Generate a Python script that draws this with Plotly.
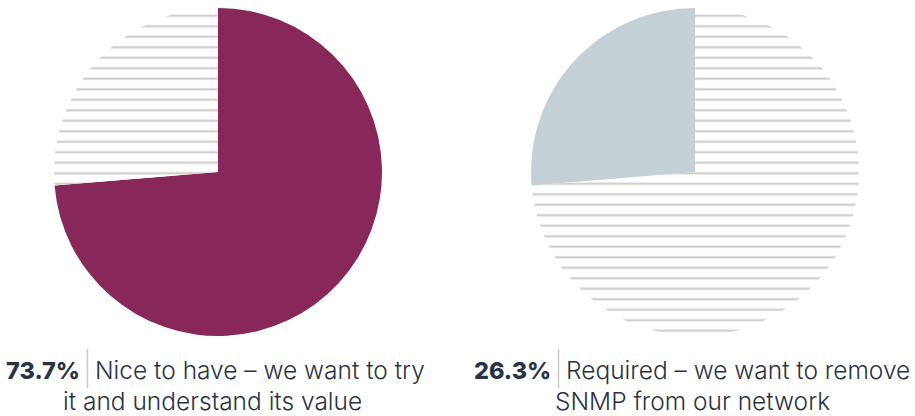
import plotly.graph_objects as go

# Survey result: how important is dropping SNMP
shares = [73.7, 26.3]
answers = ["Nice to have – we want to try it and understand its value",
           "Required – we want to remove SNMP from our network"]
pct_labels = ["73.7%", "26.3%"]
line1 = ["Nice to have – we want to try", "Required – we want to remove"]
line2 = ["it and understand its value", "SNMP from our network"]

W, H = 915, 416
MAROON = "#88285A"
SLATE = "#C4D0D6"
STRIPE = "#CDCDC7"
TEXT = "#2B3343"
FONT = "Inter"
FS = 24.5


def px(x):
    return x / W


def py(y):
    return 1 - y / H


fig = go.Figure()

# left pie: highlighted share first, striped remainder
fig.add_trace(go.Pie(
    values=shares,
    labels=["a", "b"],
    sort=False,
    direction="clockwise",
    rotation=0,
    textinfo="none",
    hoverinfo="skip",
    showlegend=False,
    domain=dict(x=[px(54), px(382)], y=[py(336), py(8)]),
    marker=dict(
        colors=[MAROON, "white"],
        line=dict(width=0),
        pattern=dict(shape=["", "-"], fgcolor=[MAROON, STRIPE],
                     bgcolor=[MAROON, "white"], size=10.5, solidity=0.2),
    ),
))

# right pie: striped majority, highlighted minority share
fig.add_trace(go.Pie(
    values=shares,
    labels=["c", "d"],
    sort=False,
    direction="clockwise",
    rotation=0,
    textinfo="none",
    hoverinfo="skip",
    showlegend=False,
    domain=dict(x=[px(531), px(859)], y=[py(336), py(8)]),
    marker=dict(
        colors=["white", SLATE],
        line=dict(width=0),
        pattern=dict(shape=["-", ""], fgcolor=[STRIPE, SLATE],
                     bgcolor=["white", SLATE], size=10.5, solidity=0.2),
    ),
))

# captions under each pie
seps = [87.5, 558.5]
centers = [212, 692]
for pct, l1, l2, sx, cx in zip(pct_labels, line1, line2, seps, centers):
    fig.add_annotation(x=px(sx - 6), y=py(370), xref="paper", yref="paper",
                       text=pct, showarrow=False,
                       xanchor="right", yanchor="middle",
                       font=dict(family=FONT, size=23.5, color=TEXT, weight=800))
    fig.add_annotation(x=px(sx + 5), y=py(370), xref="paper", yref="paper",
                       text=l1, showarrow=False,
                       xanchor="left", yanchor="middle",
                       font=dict(family=FONT, size=FS, color=TEXT, weight=300))
    fig.add_annotation(x=px(cx), y=py(401), xref="paper", yref="paper",
                       text=l2, showarrow=False,
                       xanchor="center", yanchor="middle",
                       font=dict(family=FONT, size=FS, color=TEXT, weight=300))
    fig.add_shape(type="line", xref="paper", yref="paper",
                  x0=px(sx), x1=px(sx), y0=py(349), y1=py(388),
                  line=dict(color="#C9C9C9", width=1.5))

fig.update_layout(
    width=W, height=H,
    margin=dict(l=0, r=0, t=0, b=0),
    paper_bgcolor="white",
    plot_bgcolor="white",
)

fig.write_html("out.html")
